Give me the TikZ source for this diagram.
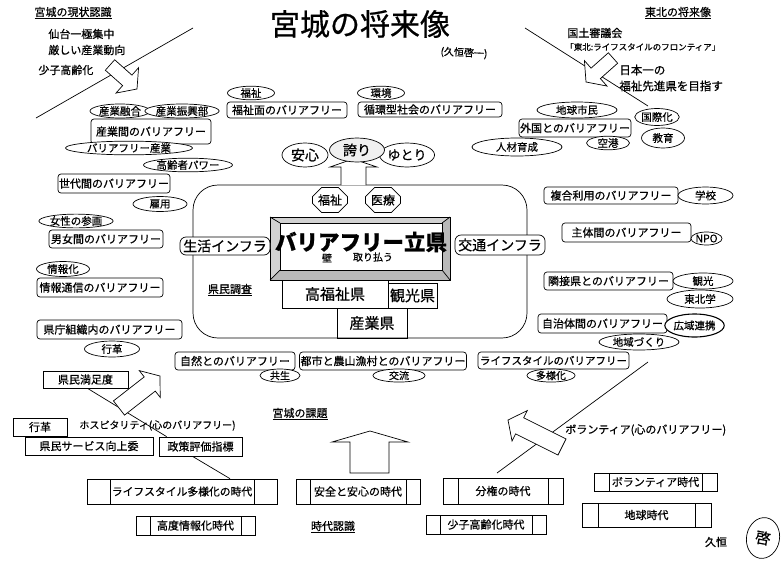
\documentclass[tikz,border=0pt]{standalone}
\usepackage{fontspec}
\setmainfont{Noto Sans CJK JP}[FakeBold=0.6]
\usetikzlibrary{calc,shapes.geometric,shapes.misc}
\newcommand{\fsz}[1]{\fontsize{#1pt}{#1pt}\selectfont}
% fat arrow: tail, tip, shaft half width, head half width, head length
\newcommand{\fatarrow}[5]{%
  \coordinate (faS) at #1; \coordinate (faT) at #2;
  \coordinate (faB) at ($(faT)!#5!(faS)$);
  \filldraw[fill=white, line join=miter]
    ($(faS)!#3!90:(faT)$) -- ($(faB)!#3!90:(faT)$) -- ($(faB)!#4!90:(faT)$) -- (faT)
    -- ($(faB)!#4!-90:(faT)$) -- ($(faB)!#3!-90:(faT)$) -- ($(faS)!#3!-90:(faT)$) -- cycle;
}
\tikzset{
  rbox/.style={draw, rounded corners=3pt, fill=white, inner xsep=1pt, inner ysep=0pt},
  sbox/.style={draw, fill=white, inner xsep=1pt, inner ysep=0pt},
  ell/.style={draw, ellipse, fill=white, inner sep=0pt, font=\fsz{10.5}},
  era/.style={draw, rectangle, fill=white, inner sep=0pt,
    path picture={\draw ([xshift=#1]path picture bounding box.north west) -- ([xshift=#1]path picture bounding box.south west)
      ([xshift=-#1]path picture bounding box.north east) -- ([xshift=-#1]path picture bounding box.south east);}},
  plain/.style={inner sep=0pt},
}
\begin{document}
\begin{tikzpicture}[x=1pt,y=-1pt, line width=0.7pt, every node/.style={font=\fsz{11}}]
\useasboundingbox (0,0) rectangle (783,562);
\fill[white] (0,0) rectangle (783,562);

% ---------- headers ----------
\node[plain] (hdrL) at (73,13) {\underline{宮城の現状認識}};
\node[plain, anchor=west] (senL1) at (48,34) {仙台一極集中};
\node[plain, anchor=west] (senL2) at (48,50) {厳しい産業動向};
\node[plain, anchor=west] (senL3) at (38,70) {少子高齢化};
\coordinate (dl1) at (36,118); \coordinate (dl2) at (193,28);
\draw (dl1) -- (dl2);
\fatarrow{(110,65)}{(137,89)}{7pt}{17pt}{13pt}

\node[plain] (title) at (360,24) {\fsz{30}宮城の将来像};
\node[plain, rotate=-3] (hw) at (464,53) {\fsz{10}(久恒啓一)};

\node[plain] (hdrR) at (678,13) {\underline{東北の将来像}};
\node[plain, anchor=west] (kokudo) at (567,33) {国土審議会};
\node[plain, anchor=west] (front) at (565,47) {\fsz{8.5}「東北:ライフスタイルのフロンティア」};
\node[plain, anchor=west] (nihon1) at (619,70) {\fsz{11.5}日本一の};
\node[plain, anchor=west] (nihon2) at (619,86) {\fsz{11.5}福祉先進県を目指す};
\coordinate (dr1) at (525,28); \coordinate (dr2) at (648,106);
\draw (dr1) -- (dr2);
\fatarrow{(613,58)}{(586,82)}{7pt}{17pt}{13pt}

% ---------- upper-left cluster ----------
\node[rbox, minimum width=120pt, minimum height=25pt] (sangyoKan) at (151,131.5) {産業間のバリアフリー};
\node[ell, minimum width=60pt, minimum height=14pt] (sangyoYugo) at (120,111) {産業融合};
\node[ell, minimum width=62pt, minimum height=14pt] (sangyoShinko) at (182,111) {産業振興部};
\node[ell, minimum width=127pt, minimum height=13pt] (bfSangyo) at (129,148) {バリアフリー産業};
\node[ell, minimum width=83pt, minimum height=13pt] (koreisha) at (188,165) {高齢者パワー};
\node[rbox, minimum width=106pt, minimum height=19pt] (sedai) at (114,183.5) {世代間のバリアフリー};
\node[ell, minimum width=54pt, minimum height=15pt] (koyo) at (160,204) {雇用};
\node[ell, minimum width=65pt, minimum height=12pt] (josei) at (76,221) {女性の参画};
\node[rbox, minimum width=114pt, minimum height=18pt] (danjo) at (106,239) {男女間のバリアフリー};
\node[ell, minimum width=53pt, minimum height=15pt] (johoka) at (63,269) {情報化};
\node[rbox, minimum width=126pt, minimum height=19pt] (johoTsushin) at (100,287.5) {情報通信のバリアフリー};
\node[rbox, minimum width=145pt, minimum height=19pt] (kencho) at (109.5,329.5) {県庁組織内のバリアフリー};
\node[ell, minimum width=55pt, minimum height=16pt] (gyokaku1) at (112,349) {行革};

% ---------- top row ----------
\node[ell, minimum width=47pt, minimum height=13pt] (fukushiE) at (251,93) {福祉};
\node[rbox, minimum width=120pt, minimum height=16pt] (fukushiMen) at (287,110) {福祉面のバリアフリー};
\node[ell, minimum width=47pt, minimum height=13pt] (kankyo) at (381,93) {環境};
\node[rbox, minimum width=144pt, minimum height=15pt] (junkan) at (430,109.5) {循環型社会のバリアフリー};

% ---------- upper-right cluster ----------
\node[ell, minimum width=80pt, minimum height=16pt] (chikyu) at (577,110) {地球市民};
\node[rbox, minimum width=110pt, minimum height=18pt] (gaikoku) at (575,128) {外国とのバリアフリー};
\node[ell, minimum width=90pt, minimum height=18pt] (jinzai) at (517,147) {人材育成};
\node[ell, minimum width=43pt, minimum height=11pt] (kuko) at (608,143) {空港};
\node[ell, minimum width=43pt, minimum height=17pt] (kokusai) at (657,117) {国際化};
\node[ell, minimum width=43pt, minimum height=20pt] (kyoiku) at (663,138) {教育};

% ---------- container ----------
\node[draw, rounded corners=25pt, minimum width=334pt, minimum height=153pt, inner sep=0pt] (cont) at (360,261.5) {};
\draw[fill=white, line join=miter] (341,185) -- (341,167) -- (330,167) -- (353,159) -- (377,167) -- (366,167) -- (366,185);
\node[ell, minimum width=46pt, minimum height=24pt, font=\fsz{14}] (anshin) at (305,155) {安心};
\node[ell, minimum width=45pt, minimum height=24pt, font=\fsz{13}] (yutori) at (407,155) {ゆとり};
\node[ell, fill=gray!12, minimum width=55pt, minimum height=24pt, font=\fsz{14}] (hokori) at (357,150) {誇り};

\node[draw, chamfered rectangle, chamfered rectangle xsep=6pt, minimum width=35pt, minimum height=25pt, inner sep=0pt, fill=white, font=\fsz{12}] (fukushiC) at (330,200) {福祉};
\node[draw, chamfered rectangle, chamfered rectangle xsep=6pt, minimum width=35pt, minimum height=25pt, inner sep=0pt, fill=white, font=\fsz{12}] (iryo) at (383,200) {医療};

% bevel box
\fill[gray!35] (270,217) rectangle (450,280);
\fill[gray!55] (450,217) -- (442,223) -- (442,270) -- (280,270) -- (270,280) -- (450,280) -- cycle;
\fill[white] (280,223) rectangle (442,270);
\draw (270,217) rectangle (450,280);
\draw (280,223) rectangle (442,270);
\draw (270,217) -- (280,223) (450,217) -- (442,223) (270,280) -- (280,270) (450,280) -- (442,270);
\node[plain, font=\fsz{21.5}\bfseries] (bfRitsu) at (361,242) {バリアフリー立県};
\node[plain, font=\fsz{10}] (kabe) at (327,258) {壁};
\node[plain, font=\fsz{10}] (torihara) at (373,257) {取り払う};

\node[draw, minimum width=106pt, minimum height=28pt, inner sep=0pt, font=\fsz{15}] (kofukushi) at (335,294) {高福祉県};
\node[draw, minimum width=49pt, minimum height=25pt, inner sep=0pt, font=\fsz{15}] (kankoken) at (412.5,295.5) {観光県};
\node[draw, minimum width=70pt, minimum height=30pt, inner sep=0pt, font=\fsz{15}] (sangyoken) at (372,323) {産業県};

\node[rbox, rounded corners=6pt, minimum width=90pt, minimum height=18pt, font=\fsz{14}] (seikatsu) at (225,246) {生活インフラ};
\node[rbox, rounded corners=6pt, minimum width=90pt, minimum height=20pt, font=\fsz{14}] (kotsu) at (500,245) {交通インフラ};
\node[plain] (kenminChosa) at (230,290) {\underline{県民調査}};

% ---------- right-middle cluster ----------
\node[rbox, minimum width=134pt, minimum height=17pt] (fukugo) at (611,195.5) {複合利用のバリアフリー};
\node[ell, minimum width=55pt, minimum height=17pt] (gakko) at (705.5,195.5) {学校};
\node[rbox, minimum width=129pt, minimum height=19pt] (shutai) at (626.5,232.5) {主体間のバリアフリー};
\node[ell, minimum width=31pt, minimum height=13pt] (npo) at (706.5,238.5) {NPO};
\node[rbox, minimum width=129pt, minimum height=18pt] (ringi) at (608.5,281) {隣接県とのバリアフリー};
\node[ell, minimum width=60pt, minimum height=16pt] (kanko) at (703,281) {観光};
\node[ell, minimum width=66pt, minimum height=18pt] (tohokugaku) at (700,299) {東北学};
\node[rbox, minimum width=129pt, minimum height=19pt] (jichitai) at (602.5,323.5) {自治体間のバリアフリー};
\node[ell, line width=1.1pt, minimum width=55pt, minimum height=23pt] (koiki) at (694.5,325.5) {広域連携};
\node[ell, minimum width=80pt, minimum height=16pt] (chiiki) at (639,342) {地域づくり};

% ---------- bottom row of barrier-free boxes ----------
\node[rbox, minimum width=120pt, minimum height=18pt] (shizen) at (235,361) {自然とのバリアフリー};
\node[rbox, minimum width=166pt, minimum height=18pt] (toshi) at (383,361) {都市と農山漁村とのバリアフリー};
\node[rbox, minimum width=151pt, minimum height=17pt, font=\fsz{10.5}] (lifeBF) at (553.5,360.5) {ライフスタイルのバリアフリー};
\node[ell, minimum width=40pt, minimum height=9pt, font=\fsz{10}] (kyosei) at (280,375.5) {共生};
\node[ell, minimum width=52pt, minimum height=9pt, font=\fsz{10}] (koryu) at (399,375.5) {交流};
\node[ell, minimum width=48pt, minimum height=9pt, font=\fsz{10}] (tayoka) at (551,375.5) {多様化};

% ---------- lower-left ----------
\node[sbox, minimum width=85pt, minimum height=17pt] (manzoku) at (85.5,379.5) {県民満足度};
\node[sbox, minimum width=54pt, minimum height=18pt] (gyokaku2) at (40,427) {行革};
\node[sbox, minimum width=128pt, minimum height=18pt] (kenminService) at (89,446) {県民サービス向上委};
\node[sbox, minimum width=83pt, minimum height=19pt] (seisaku) at (200.5,446.5) {政策評価指標};
\node[plain, font=\fsz{10}] (hospitality) at (157.5,425.5) {ホスピタリティ(心のバリアフリー)};

% ---------- eras ----------
\node[era=23pt, minimum width=190pt, minimum height=25pt, font=\fsz{10.8}] (eraLife) at (182,491.5) {ライフスタイル多様化の時代};
\node[era=14pt, minimum width=119pt, minimum height=19pt] (eraJoho) at (195.5,525.5) {高度情報化時代};
\node[era=14pt, minimum width=124pt, minimum height=25pt] (eraAnzen) at (358,491.5) {安全と安心の時代};
\node[era=15pt, minimum width=120pt, minimum height=26pt] (eraBunken) at (503,491) {分権の時代};
\node[era=14pt, minimum width=120pt, minimum height=19pt] (eraShoshi) at (486,524.5) {少子高齢化時代};
\node[era=15pt, minimum width=123pt, minimum height=18pt] (eraVol) at (655.5,482) {ボランティア時代};
\node[era=16pt, minimum width=129pt, minimum height=24pt] (eraChikyu) at (646.5,515) {地球時代};

\node[plain] (kadai) at (300,414) {\underline{宮城の課題}};
\node[plain] (jidai) at (333,527) {\underline{時代認識}};
\node[plain, anchor=west] (volText) at (565,430) {ボランティア(心のバリアフリー)};
\node[plain] (hisatsune) at (716,542) {久恒};
\node[draw, ellipse, minimum width=33pt, minimum height=41pt, inner sep=0pt, rotate=-10, font=\fsz{15}] (stamp) at (763,538) {啓};

% connectors and arrows
\draw ([xshift=2pt]manzoku.south) -- ([xshift=8pt]seisaku.north west);
\draw ([xshift=-8pt]seisaku.south) -- ([xshift=48pt]eraLife.north);
\fatarrow{(119,408)}{(160,376)}{9pt}{17pt}{13pt}

\draw[fill=white, line join=miter] (350,473) -- (350,442) -- (332,442) -- (370,431) -- (408,442) -- (389,442) -- (389,473) -- cycle;

\coordinate (db1) at (497,473); \coordinate (db2) at (648,362);
\draw (db1) -- (db2);
\fatarrow{(562,447)}{(508,420)}{9pt}{17pt}{13pt}
\end{tikzpicture}
\end{document}
